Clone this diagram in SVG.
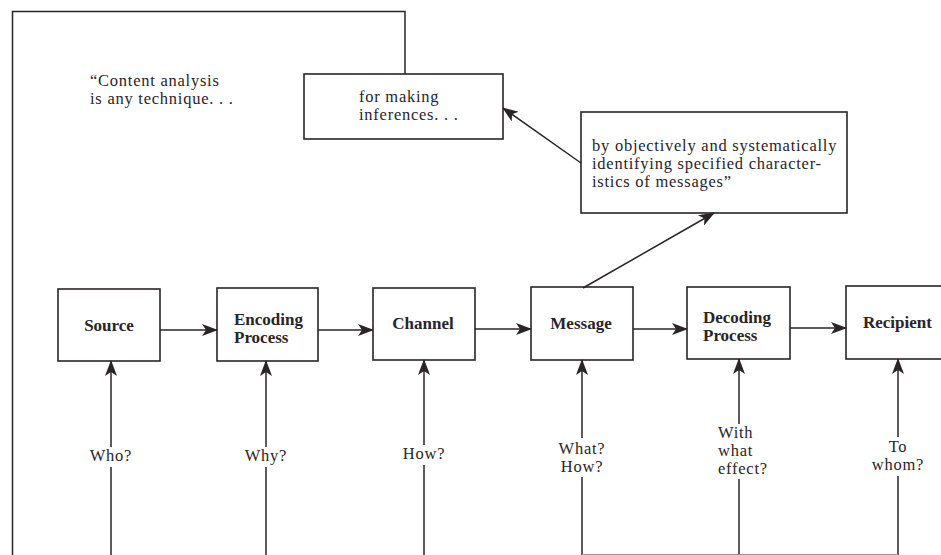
<svg xmlns="http://www.w3.org/2000/svg" width="941" height="555" viewBox="0 0 941 555">
<style>
.box{fill:#fff;stroke:#2a2426;stroke-width:1.6}
.ln{fill:none;stroke:#2a2426;stroke-width:1.5}
.t{font-family:"Liberation Serif","Times New Roman",serif;font-size:16.5px;fill:#2a2426;letter-spacing:0.75px}
.b{font-family:"Liberation Serif","Times New Roman",serif;font-size:17px;font-weight:bold;fill:#2a2426}
.c{text-anchor:middle}
</style>
<defs>
<marker id="ah" viewBox="0 0 16 12" refX="15" refY="6" markerWidth="16" markerHeight="12" markerUnits="userSpaceOnUse" orient="auto">
<path d="M0,0 L16,6 L0,12 L4,6 Z" fill="#2a2426"/>
</marker>
</defs>
<rect width="941" height="555" fill="#fff"/>
<g id="frame">
<path class="ln" d="M12.5,555 V11.5 H405 V74"/>
<text class="t" x="90" y="86">“Content analysis</text>
<text class="t" x="90" y="104">is any technique. . .</text>
</g>
<g id="inferences">
<rect class="box" x="304" y="74" width="199" height="65"/>
<text class="t" x="359" y="102">for making</text>
<text class="t" x="359" y="120">inferences. . .</text>
</g>
<g id="quote">
<rect class="box" x="581" y="112" width="266" height="101"/>
<text class="t" x="592" y="151">by objectively and systematically</text>
<text class="t" x="592" y="169">identifying specified character-</text>
<text class="t" x="592" y="187">istics of messages”</text>
</g>
<g id="source">
<rect class="box" x="58" y="289" width="102" height="72"/>
<text class="b c" x="109" y="331">Source</text>
</g>
<g id="encoding">
<rect class="box" x="217" y="288" width="101" height="73"/>
<text class="b" x="234" y="325">Encoding</text>
<text class="b" x="234" y="343">Process</text>
</g>
<g id="channel">
<rect class="box" x="373" y="288" width="102" height="72"/>
<text class="b c" x="423" y="329">Channel</text>
</g>
<g id="message">
<rect class="box" x="531" y="287" width="102" height="73"/>
<text class="b c" x="581" y="329">Message</text>
</g>
<g id="decoding">
<rect class="box" x="687" y="287" width="103" height="72"/>
<text class="b" x="703" y="323">Decoding</text>
<text class="b" x="703" y="341">Process</text>
</g>
<g id="recipient">
<rect class="box" x="846" y="286" width="100" height="73"/>
<text class="b" x="863" y="328">Recipient</text>
</g>
<g id="connectors">
<line class="ln" x1="160" y1="330" x2="217" y2="330" marker-end="url(#ah)"/>
<line class="ln" x1="318" y1="330" x2="373" y2="330" marker-end="url(#ah)"/>
<line class="ln" x1="475" y1="329" x2="531" y2="329" marker-end="url(#ah)"/>
<line class="ln" x1="633" y1="329" x2="687" y2="329" marker-end="url(#ah)"/>
<line class="ln" x1="790" y1="328" x2="846" y2="328" marker-end="url(#ah)"/>
<line class="ln" x1="583" y1="288" x2="714" y2="213" marker-end="url(#ah)"/>
<line class="ln" x1="581" y1="163" x2="503" y2="108" marker-end="url(#ah)"/>
<line class="ln" x1="111" y1="555" x2="111" y2="467"/>
<line class="ln" x1="111" y1="447" x2="111" y2="361" marker-end="url(#ah)"/>
<line class="ln" x1="266" y1="555" x2="266" y2="467"/>
<line class="ln" x1="266" y1="447" x2="266" y2="361" marker-end="url(#ah)"/>
<line class="ln" x1="424" y1="555" x2="424" y2="465"/>
<line class="ln" x1="424" y1="445" x2="424" y2="360" marker-end="url(#ah)"/>
<line class="ln" x1="582" y1="555" x2="582" y2="477"/>
<line class="ln" x1="582" y1="438" x2="582" y2="360" marker-end="url(#ah)"/>
<line class="ln" x1="739" y1="555" x2="739" y2="479"/>
<line class="ln" x1="739" y1="424" x2="739" y2="359" marker-end="url(#ah)"/>
<line class="ln" x1="898" y1="555" x2="898" y2="476"/>
<line class="ln" x1="898" y1="437" x2="898" y2="359" marker-end="url(#ah)"/>
<line x1="582" y1="554.5" x2="898" y2="554.5" stroke="#9a9496" stroke-width="1"/>
</g>
<g id="labels">
<text class="t c" x="111" y="461">Who?</text>
<text class="t c" x="266" y="461">Why?</text>
<text class="t c" x="424" y="459">How?</text>
<text class="t c" x="582" y="454">What?</text>
<text class="t c" x="582" y="472">How?</text>
<text class="t" x="718" y="438">With</text>
<text class="t" x="718" y="456">what</text>
<text class="t" x="718" y="474">effect?</text>
<text class="t c" x="898" y="452">To</text>
<text class="t c" x="898" y="470">whom?</text>
</g>
</svg>
